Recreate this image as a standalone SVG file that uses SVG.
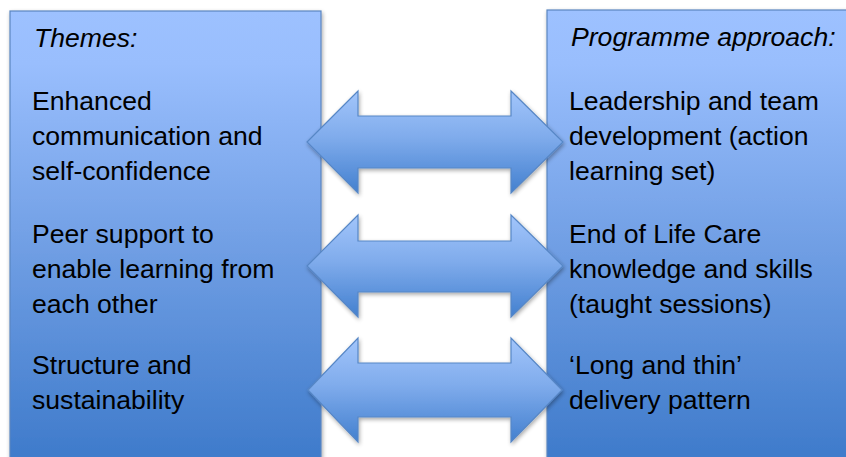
<svg xmlns="http://www.w3.org/2000/svg" width="846" height="457" viewBox="0 0 846 457">
  <defs>
    <linearGradient id="boxGrad" gradientUnits="userSpaceOnUse" x1="0" y1="10" x2="0" y2="457">
      <stop offset="0" stop-color="#9DC1FF"/>
      <stop offset="0.12" stop-color="#99BEFD"/>
      <stop offset="0.55" stop-color="#6E9DE3"/>
      <stop offset="1" stop-color="#3F7BCB"/>
    </linearGradient>
    <linearGradient id="arrowGrad" x1="0" y1="0" x2="0" y2="1">
      <stop offset="0" stop-color="#A2C5FB"/>
      <stop offset="0.45" stop-color="#80ACEC"/>
      <stop offset="1" stop-color="#4380CF"/>
    </linearGradient>
    <filter id="shadow" x="-10%" y="-10%" width="130%" height="130%">
      <feGaussianBlur in="SourceAlpha" stdDeviation="2"/>
      <feOffset dx="1" dy="2" result="b"/>
      <feComponentTransfer><feFuncA type="linear" slope="0.35"/></feComponentTransfer>
      <feMerge><feMergeNode/><feMergeNode in="SourceGraphic"/></feMerge>
    </filter>
  </defs>
  <style>
    .box { fill: url(#boxGrad); stroke: #5A86C0; stroke-width: 1.2; filter: url(#shadow); }
    .arrow { fill: url(#arrowGrad); stroke: #5787C6; stroke-width: 1.2; stroke-linejoin: miter; filter: url(#shadow); }
    .t { font-family: "Liberation Sans", Arial, sans-serif; font-size: 26.6px; fill: #000000; }
    .h { font-style: italic; }
  </style>
  <rect width="846" height="457" fill="#FFFFFF"/>

  <g id="themes">
    <rect class="box" x="10" y="11" width="311" height="470"/>
    <text class="t h" x="34" y="47">Themes:</text>
    <text class="t" x="32" y="110">Enhanced</text>
    <text class="t" x="32" y="145">communication and</text>
    <text class="t" x="32" y="180">self-confidence</text>
    <text class="t" x="32" y="243">Peer support to</text>
    <text class="t" x="32" y="278">enable learning from</text>
    <text class="t" x="32" y="313">each other</text>
    <text class="t" x="32" y="374">Structure and</text>
    <text class="t" x="32" y="409">sustainability</text>
  </g>

  <g id="programme">
    <rect class="box" x="547" y="10" width="320" height="470"/>
    <text class="t h" x="571" y="46">Programme approach:</text>
    <text class="t" x="569" y="110">Leadership and team</text>
    <text class="t" x="569" y="145">development (action</text>
    <text class="t" x="569" y="180">learning set)</text>
    <text class="t" x="569" y="243">End of Life Care</text>
    <text class="t" x="569" y="278">knowledge and skills</text>
    <text class="t" x="569" y="313">(taught sessions)</text>
    <text class="t" x="569" y="374">‘Long and thin’</text>
    <text class="t" x="569" y="409">delivery pattern</text>
  </g>

  <g id="connectors">
    <path class="arrow" d="M307,142 L358,91 L358,116 L511,116 L511,91 L563,142 L511,193 L511,168 L358,168 L358,193 Z"/>
    <path class="arrow" d="M307,266 L358,215 L358,241 L511,241 L511,215 L563,266 L511,317 L511,292 L358,292 L358,317 Z"/>
    <path class="arrow" d="M308,390 L358,338 L358,363 L511,363 L511,338 L562,390 L511,442 L511,417 L358,417 L358,442 Z"/>
  </g>
</svg>
